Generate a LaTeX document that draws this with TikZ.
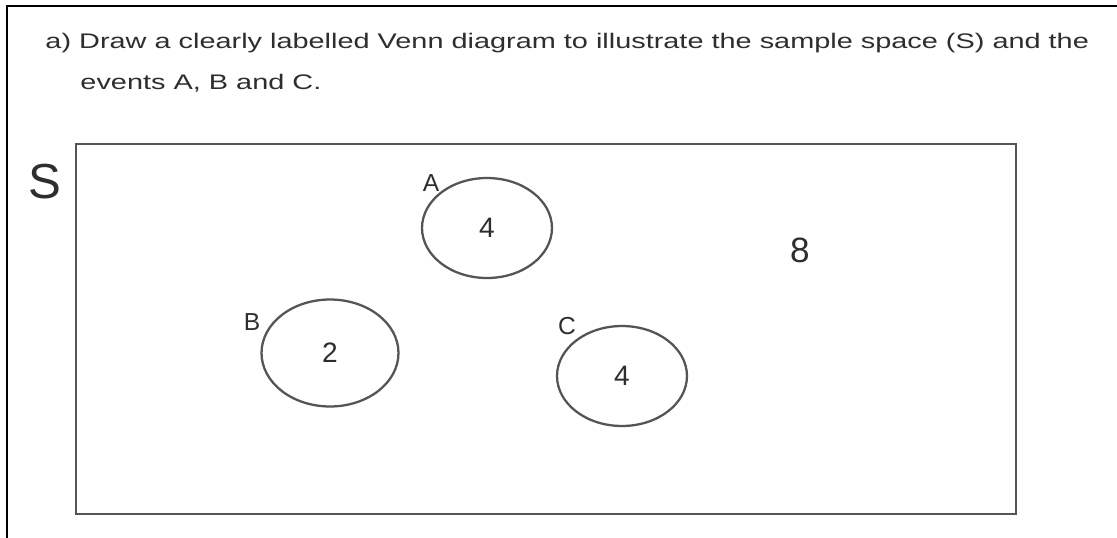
\documentclass[tikz,border=0pt]{standalone}
\usepackage{fontspec}
\setmainfont{Liberation Sans}
\usepackage{xcolor}
\definecolor{inkS}{HTML}{2E2E2E}
\definecolor{penS}{HTML}{555555}
\usetikzlibrary{shapes.geometric,positioning}

\begin{document}
\begin{tikzpicture}[x=0.02cm,y=-0.02cm,
 event/.style={draw=penS,line width=1.3pt,ellipse,inner sep=0pt,
 minimum width=2.6cm,minimum height=2cm,text=inkS,font=\fontsize{16}{16}\selectfont},
 tag/.style={text=inkS,inner sep=0pt,font=\fontsize{14}{14}\selectfont},
 question/.style={anchor=base west,inner sep=0pt,text=inkS,xscale=1.37,transform shape,
 font=\fontsize{12}{14}\selectfont}]
 \useasboundingbox (0,0) rectangle (1117,538);
 \fill[white] (0,0) rectangle (1117,538);
 \draw[line width=0.9pt] (7,538)--(7,6)--(1117,6);
 \node[question] (q1) at (45,48) {a) Draw a clearly labelled Venn diagram to illustrate the sample space (S) and the};
 \node[question] (q2) at (80,89) {events A, B and C.};
 \node[draw=penS,line width=0.9pt,minimum width=18.8cm,minimum height=7.4cm,inner sep=0pt] (space) at (546,329) {};
 \node[text=inkS,inner sep=0pt,font=\fontsize{28}{28}\selectfont] (s) at (45,182) {S};
 \node[event] (a) at (487,228) {4};
 \node[event,minimum width=2.74cm,minimum height=2.14cm] (b) at (330,353) {2};
 \node[event] (c) at (622,376) {4};
 \node[tag] (la) at (431,183) {A};
 \node[tag] (lb) at (252,322) {B};
 \node[tag] (lc) at (567,326) {C};
 \node[text=inkS,inner sep=0pt,font=\fontsize{20}{20}\selectfont] (rest) at (800,250) {8};
\end{tikzpicture}
\end{document}
